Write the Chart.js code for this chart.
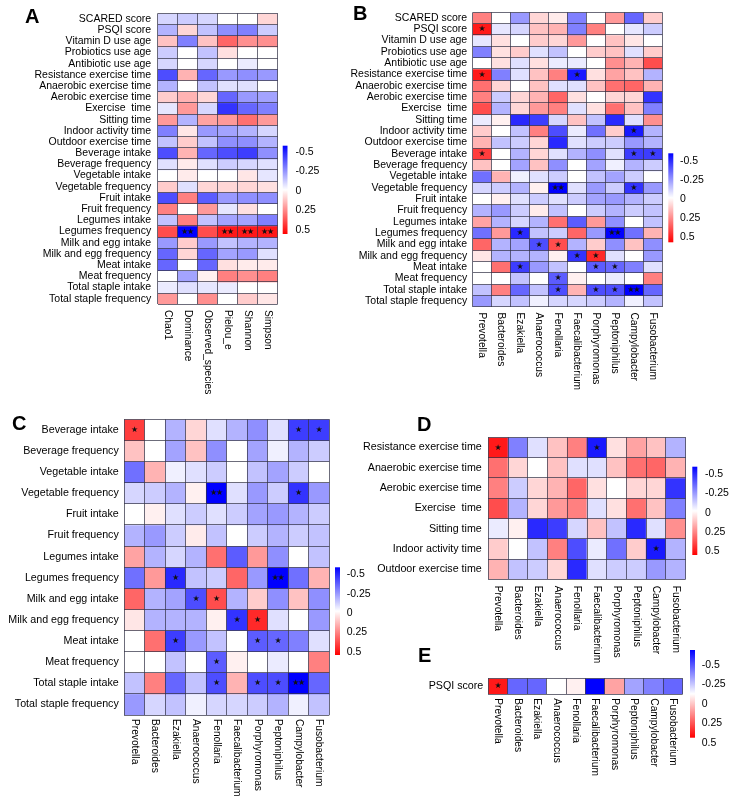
<!DOCTYPE html>
<html>
<head>
<meta charset="utf-8">
<script src="https://cdn.jsdelivr.net/npm/chart.js@4.4.1/dist/chart.umd.min.js"></script>
<style>
  html, body { margin: 0; padding: 0; background: #fff; }
  #wrap { position: relative; width: 731px; height: 802px; }
  #wrap canvas { position: absolute; left: 0; top: 0; pointer-events: none; }
</style>
</head>
<body>
<div id="wrap">
  <canvas id="panelA" width="731" height="802"></canvas>
  <canvas id="panelB" width="731" height="802"></canvas>
  <canvas id="panelC" width="731" height="802"></canvas>
  <canvas id="panelD" width="731" height="802"></canvas>
  <canvas id="panelE" width="731" height="802"></canvas>
</div>
<script>
// lifestyle factors (rows)
const rowLabels = [
  'SCARED score', 'PSQI score', 'Vitamin D use age', 'Probiotics use age', 'Antibiotic use age',
  'Resistance exercise time', 'Anaerobic exercise time', 'Aerobic exercise time', 'Exercise  time',
  'Sitting time', 'Indoor activity time', 'Outdoor exercise time',
  'Beverage intake', 'Beverage frequency', 'Vegetable intake', 'Vegetable frequency',
  'Fruit intake', 'Fruit frequency', 'Legumes intake', 'Legumes frequency',
  'Milk and egg intake', 'Milk and egg frequency', 'Meat intake', 'Meat frequency',
  'Total staple intake', 'Total staple frequency'
];

const alphaLabels = ['Chao1', 'Dominance', 'Observed_species', 'Pielou_e', 'Shannon', 'Simpson'];
const genusLabels = ['Prevotella', 'Bacteroides', 'Ezakiella', 'Anaerococcus', 'Fenollaria',
  'Faecalibacterium', 'Porphyromonas', 'Peptoniphilus', 'Campylobacter', 'Fusobacterium'];

const colourTicks = [-0.5, -0.25, 0, 0.25, 0.5];

// correlation with alpha diversity (panel A)
const alphaValues = [
  [-0.08, -0.1, -0.08, 0, 0, 0.08],
  [-0.15, 0.08, -0.12, -0.22, -0.25, -0.1],
  [0.12, -0.25, 0.12, 0.3, 0.22, 0.22],
  [-0.1, 0, -0.12, 0.06, 0, 0],
  [-0.08, 0, -0.08, 0, -0.04, 0],
  [-0.35, 0.15, -0.3, -0.2, -0.22, -0.2],
  [-0.15, 0, -0.12, -0.06, -0.06, 0],
  [0.1, 0.15, 0.08, -0.3, -0.2, -0.18],
  [-0.05, 0.2, -0.08, -0.4, -0.3, -0.25],
  [0.2, -0.15, 0.18, 0.2, 0.28, 0.2],
  [-0.25, 0.05, -0.2, -0.18, -0.15, -0.08],
  [-0.12, 0.1, -0.12, -0.22, -0.22, -0.15],
  [-0.35, 0.15, -0.3, -0.35, -0.38, -0.22],
  [-0.06, 0.04, -0.06, -0.1, -0.08, -0.06],
  [0, 0.04, 0, 0, 0.05, -0.05],
  [0.1, -0.06, 0.08, 0.08, 0.08, 0.06],
  [-0.35, 0.25, -0.32, -0.2, -0.22, -0.22],
  [0.25, 0, 0.2, -0.05, 0.06, 0],
  [-0.12, 0.25, -0.12, -0.18, -0.18, -0.25],
  [0.35, -0.55, 0.35, 0.45, 0.45, 0.45],
  [-0.2, 0.1, -0.2, -0.12, -0.15, -0.15],
  [-0.3, 0.08, -0.3, -0.18, -0.2, -0.06],
  [-0.3, 0, -0.3, 0.06, 0.04, 0.04],
  [0, -0.18, 0.03, 0.25, 0.22, 0.25],
  [-0.04, -0.06, -0.05, -0.04, 0, 0],
  [0.2, 0, 0.22, 0, 0.1, 0.05]
];
const alphaSig = [
  ['Legumes frequency', 'Dominance', '**'],
  ['Legumes frequency', 'Pielou_e', '**'],
  ['Legumes frequency', 'Shannon', '**'],
  ['Legumes frequency', 'Simpson', '**']
];

// correlation with genera (panels B, C, D)
const genusValues = [
  [0.25, 0, -0.2, 0.08, 0.04, -0.25, 0, 0.2, -0.3, 0.1],
  [0.45, -0.05, -0.08, 0.12, 0.15, -0.25, 0.25, 0, -0.05, -0.1],
  [-0.05, 0.06, 0, 0.1, 0.08, 0.2, 0, 0.12, 0.05, 0],
  [-0.25, 0.06, 0.1, -0.06, -0.12, 0, 0.1, 0.12, -0.06, 0.1],
  [0, 0.06, -0.06, 0.06, -0.04, -0.04, 0, 0.22, 0.15, 0.35],
  [0.45, -0.25, -0.06, 0.12, 0.25, -0.45, 0.06, 0.18, 0.12, -0.15],
  [0.28, 0.08, 0, 0.12, -0.06, -0.06, 0.12, 0.28, 0.3, 0.15],
  [0.25, -0.1, 0.08, 0.15, 0.3, 0.06, 0, 0.08, 0.08, -0.4],
  [0.35, -0.15, 0.08, 0.2, 0.25, -0.06, 0.06, 0.28, 0.12, -0.25],
  [-0.04, 0.03, -0.42, -0.38, -0.08, 0.12, -0.12, -0.42, -0.06, 0.22],
  [0.1, 0, -0.12, 0.25, -0.35, -0.04, -0.28, 0.1, -0.45, -0.15],
  [0.15, -0.12, -0.1, 0.08, -0.42, -0.06, -0.1, -0.1, -0.2, -0.15],
  [0.38, 0, -0.15, 0.08, -0.06, -0.15, -0.22, -0.06, -0.38, -0.38],
  [0.12, 0, -0.18, 0.12, -0.22, 0, -0.18, -0.03, -0.15, -0.1],
  [-0.28, 0.15, -0.03, -0.06, -0.1, 0, -0.12, -0.18, -0.1, 0],
  [-0.08, -0.1, -0.15, 0.03, -0.55, -0.06, -0.2, -0.1, -0.4, -0.2],
  [0, 0.03, -0.06, -0.1, -0.06, -0.1, -0.18, -0.2, -0.15, -0.1],
  [-0.15, -0.2, -0.1, 0.04, -0.12, 0, -0.1, -0.15, -0.1, -0.12],
  [0.18, -0.15, -0.08, -0.15, 0.28, -0.32, 0.2, -0.22, 0, -0.12],
  [-0.28, 0.2, -0.42, -0.12, -0.1, 0.3, -0.2, -0.55, -0.28, 0.15],
  [0.3, -0.15, -0.18, -0.35, 0.35, -0.15, 0.1, -0.22, 0.12, -0.22],
  [0.05, -0.15, -0.15, -0.15, 0.03, -0.4, 0.42, -0.06, 0, -0.2],
  [0, 0.28, -0.38, -0.2, -0.12, 0, -0.32, -0.3, -0.25, -0.06],
  [0, 0, -0.12, 0, -0.32, 0.03, 0, -0.04, 0, 0.25],
  [-0.12, 0.25, -0.3, -0.12, -0.35, 0.15, -0.35, -0.35, -0.5, -0.3],
  [-0.2, -0.08, -0.12, -0.03, -0.08, -0.08, -0.1, -0.15, -0.03, -0.12]
];
const genusSig = [
  ['PSQI score', 'Prevotella', '*'],
  ['Resistance exercise time', 'Prevotella', '*'],
  ['Resistance exercise time', 'Faecalibacterium', '*'],
  ['Indoor activity time', 'Campylobacter', '*'],
  ['Beverage intake', 'Prevotella', '*'],
  ['Beverage intake', 'Campylobacter', '*'],
  ['Beverage intake', 'Fusobacterium', '*'],
  ['Vegetable frequency', 'Fenollaria', '**'],
  ['Vegetable frequency', 'Campylobacter', '*'],
  ['Legumes frequency', 'Ezakiella', '*'],
  ['Legumes frequency', 'Peptoniphilus', '**'],
  ['Milk and egg intake', 'Anaerococcus', '*'],
  ['Milk and egg intake', 'Fenollaria', '*'],
  ['Milk and egg frequency', 'Faecalibacterium', '*'],
  ['Milk and egg frequency', 'Porphyromonas', '*'],
  ['Meat intake', 'Ezakiella', '*'],
  ['Meat intake', 'Porphyromonas', '*'],
  ['Meat intake', 'Peptoniphilus', '*'],
  ['Meat frequency', 'Fenollaria', '*'],
  ['Total staple intake', 'Fenollaria', '*'],
  ['Total staple intake', 'Porphyromonas', '*'],
  ['Total staple intake', 'Peptoniphilus', '*'],
  ['Total staple intake', 'Campylobacter', '**']
];

// panel E: PSQI score only
const psqiValues = [0.45, -0.3, -0.3, 0, 0.03, -0.55, 0.18, -0.18, -0.25, -0.3];
const psqiSig = [['PSQI score', 'Prevotella', '*']];

const FONT = '"Liberation Sans", Arial, sans-serif';
const gridColour = 'rgba(50,50,70,0.8)';

function cellColour(v) {
  const t = Math.min(1, Math.abs(v) / 0.5);
  const c = Math.round(255 * (1 - t));
  return v < 0 ? `rgb(${c},${c},255)` : `rgb(255,${c},${c})`;
}

function buildPanel(p) {
  const nRows = p.rows.length;
  const datasets = p.rows.map((r, i) => ({
    label: r,
    data: p.cols.map(() => 1),
    backgroundColor: p.values[i].map(cellColour),
    borderWidth: 0,
    barPercentage: 1,
    categoryPercentage: 1
  }));

  const extras = {
    id: 'extras',
    afterDatasetsDraw(chart) {
      const ctx = chart.ctx, xs = chart.scales.x, ys = chart.scales.y;
      ctx.save();
      ctx.fillStyle = '#111';
      ctx.font = '8px "DejaVu Sans"';
      ctx.textAlign = 'center';
      ctx.textBaseline = 'middle';
      p.sig.forEach(([r, c, mark]) => {
        const i = p.rows.indexOf(r), j = p.cols.indexOf(c);
        if (i < 0 || j < 0) return;
        const px = xs.getPixelForValue(j), py = ys.getPixelForValue(i + 0.5);
        const n = mark.length;
        for (let k = 0; k < n; k++) {
          ctx.fillText('\u2605', px + (k - (n - 1) / 2) * 6, py);
        }
      });
      ctx.restore();
    },
    afterDraw(chart) {
      const ctx = chart.ctx, xs = chart.scales.x;
      ctx.save();
      // panel letter
      ctx.fillStyle = '#000';
      ctx.font = 'bold 20px ' + FONT;
      ctx.textAlign = 'left';
      ctx.textBaseline = 'alphabetic';
      ctx.fillText(p.letter, p.letterPos.x, p.letterPos.y);

      // column labels, rotated clockwise
      ctx.font = '10.2px ' + FONT;
      ctx.textBaseline = 'middle';
      p.cols.forEach((c, j) => {
        ctx.save();
        ctx.translate(xs.getPixelForValue(j), p.xLabelTop);
        ctx.rotate(Math.PI / 2);
        ctx.fillText(c, 0, 0);
        ctx.restore();
      });

      // colour bar
      const b = p.bar;
      const g = ctx.createLinearGradient(0, b.y, 0, b.y + b.h);
      for (let k = 0; k <= 20; k++) {
        g.addColorStop(k / 20, cellColour(-0.5 + k / 20));
      }
      ctx.fillStyle = g;
      ctx.fillRect(b.x, b.y, b.w, b.h);
      ctx.fillStyle = '#000';
      ctx.font = '10.5px ' + FONT;
      ctx.textBaseline = 'middle';
      colourTicks.forEach(t => {
        const y = p.barTickTop + (t + 0.5) * (p.barTickBottom - p.barTickTop);
        ctx.fillText(String(t), p.barLabelX, y);
      });
      ctx.restore();
    }
  };

  new Chart(document.getElementById(p.id), {
    type: 'bar',
    data: { labels: p.cols, datasets: datasets },
    plugins: [extras],
    options: {
      responsive: false,
      animation: false,
      events: [],
      layout: {
        padding: { left: 1, top: p.grid.top, right: 731 - p.grid.right, bottom: 802 - p.grid.bottom }
      },
      plugins: { legend: { display: false }, tooltip: { enabled: false } },
      scales: {
        x: {
          stacked: true,
          grid: { offset: true, color: gridColour, lineWidth: 0.9, drawTicks: false, z: 1 },
          border: { display: false },
          ticks: { display: false },
          afterFit: s => { s.height = 0; }
        },
        y: {
          stacked: true,
          reverse: true,
          min: 0,
          max: nRows,
          grid: { color: gridColour, lineWidth: 0.9, drawTicks: false, z: 1 },
          border: { display: false },
          ticks: { display: false },
          afterBuildTicks: s => { s.ticks = Array.from({ length: nRows + 1 }, (_, i) => ({ value: i })); },
          afterFit: s => { s.width = 0; }
        },
        rows: {
          type: 'category',
          labels: p.rows,
          position: 'left',
          offset: true,
          grid: { display: false, drawTicks: false },
          border: { display: false },
          ticks: {
            autoSkip: false,
            color: '#000',
            padding: p.labelGap,
            font: { family: FONT, size: p.rowFont, lineHeight: 1 }
          },
          afterFit: s => { s.width = p.grid.left - 1; }
        }
      }
    }
  });
}

const panels = [
  {
    id: 'panelA', letter: 'A', letterPos: { x: 25, y: 23 },
    rows: rowLabels, cols: alphaLabels, values: alphaValues, sig: alphaSig,
    grid: { left: 157.7, top: 13.3, right: 277.7, bottom: 304.3 },
    labelGap: 6.5, rowFont: 10.5, xLabelTop: 310,
    bar: { x: 282.7, y: 145.7, w: 4.8, h: 88.3 }, barLabelX: 295.5, barTickTop: 152, barTickBottom: 230
  },
  {
    id: 'panelB', letter: 'B', letterPos: { x: 353, y: 20 },
    rows: rowLabels, cols: genusLabels, values: genusValues, sig: genusSig,
    grid: { left: 472.7, top: 12.3, right: 662.3, bottom: 306.7 },
    labelGap: 5.5, rowFont: 10.5, xLabelTop: 312.5,
    bar: { x: 668.3, y: 153.3, w: 5, h: 89 }, barLabelX: 680, barTickTop: 160.7, barTickBottom: 236.7
  },
  {
    id: 'panelC', letter: 'C', letterPos: { x: 12, y: 430 },
    rows: rowLabels.slice(12), cols: genusLabels, values: genusValues.slice(12), sig: genusSig,
    grid: { left: 124.3, top: 419.3, right: 329.3, bottom: 715 },
    labelGap: 5.5, rowFont: 10.7, xLabelTop: 719,
    bar: { x: 335, y: 567.3, w: 5, h: 87.7 }, barLabelX: 346.7, barTickTop: 574.3, barTickBottom: 651.7
  },
  {
    id: 'panelD', letter: 'D', letterPos: { x: 417, y: 431 },
    rows: rowLabels.slice(5, 12), cols: genusLabels, values: genusValues.slice(5, 12), sig: genusSig,
    grid: { left: 488.3, top: 437.3, right: 685.7, bottom: 579.3 },
    labelGap: 6.5, rowFont: 10.7, xLabelTop: 585.7,
    bar: { x: 692.3, y: 466.7, w: 5, h: 88.3 }, barLabelX: 705, barTickTop: 474.3, barTickBottom: 551
  },
  {
    id: 'panelE', letter: 'E', letterPos: { x: 418, y: 661.5 },
    rows: ['PSQI score'], cols: genusLabels, values: [psqiValues], sig: psqiSig,
    grid: { left: 488.3, top: 678.3, right: 682.7, bottom: 694 },
    labelGap: 5, rowFont: 10.7, xLabelTop: 698.3,
    bar: { x: 690, y: 650, w: 5, h: 87.7 }, barLabelX: 701.7, barTickTop: 665, barTickBottom: 742.7
  }
];

panels.forEach(buildPanel);
</script>
</body>
</html>
